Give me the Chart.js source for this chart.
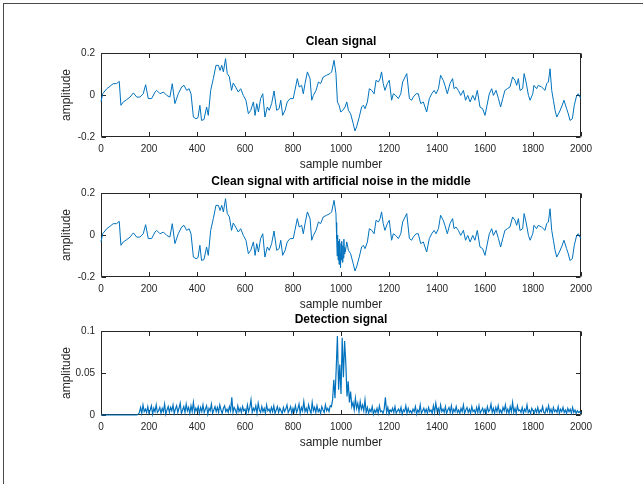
<!DOCTYPE html>
<html>
<head>
<meta charset="utf-8">
<script src="https://cdn.jsdelivr.net/npm/chart.js@4/dist/chart.umd.min.js"></script>
<style>
  html,body{margin:0;padding:0;background:#fff;}
  #wrap{position:relative;width:643px;height:484px;overflow:hidden;background:#fff;}
  #frame{position:absolute;left:3px;top:3px;width:700px;height:600px;border-left:1px solid #4a4a4a;border-top:1px solid #4a4a4a;}
  canvas{position:absolute;left:0;}
</style>
</head>
<body>
<div id="wrap">
  <div id="frame"></div>
  <canvas id="c1" width="643" height="176" style="top:0px"></canvas>
  <canvas id="c2" width="643" height="176" style="top:140px"></canvas>
  <canvas id="c3" width="643" height="176" style="top:278px"></canvas>
</div>
<script>
// ---------------- data ----------------
const titles = ["Clean signal", "Clean signal with artificial noise in the middle", "Detection signal"];
const xLabel = "sample number";
const yLabel = "amplitude";
const xTicks = [0,200,400,600,800,1000,1200,1400,1600,1800,2000];
const signalYTicks = [-0.2, 0, 0.2];
const detectionYTicks = [0, 0.05, 0.1];

// clean signal (sample number, amplitude)
const cleanSamples = [
  0,7,24,37,51,65,76,83,93,107,
  121,135,149,162,176,186,197,211,225,232,
  246,260,274,287,297,308,322,336,346,357,
  367,375,385,396,404,412,419,429,440,447,
  457,468,479,489,496,503,510,519,526,535,
  544,551,561,572,582,593,604,614,624,635,
  642,649,656,665,674,683,693,701,711,721,
  732,742,749,757,767,776,788,801,808,818,
  826,836,843,850,860,871,878,885,896,906,
  915,926,940,954,961,971,979,985,992,999,
  1007,1017,1024,1031,1040,1051,1058,1065,1076,1086,
  1093,1100,1110,1118,1128,1138,1146,1156,1163,1169,
  1176,1183,1193,1201,1211,1218,1228,1239,1249,1257,
  1267,1274,1285,1294,1301,1313,1322,1332,1343,1357,
  1368,1378,1388,1396,1406,1415,1426,1433,1443,1454,
  1465,1471,1479,1489,1499,1510,1519,1528,1538,1549,
  1558,1568,1579,1590,1600,1607,1618,1628,1635,1646,
  1656,1665,1674,1683,1693,1704,1715,1725,1732,1739,
  1746,1757,1763,1771,1781,1788,1799,1804,1815,1822,
  1836,1850,1857,1864,1871,1878,1885,1892,1899,1910,
  1919,1929,1940,1947,1954,1964,1972,1982,1989,1999
];
const cleanValues = [
  -0.033,0.006,0.030,0.041,0.054,0.054,0.065,-0.049,-0.033,-0.022,
  -0.010,0.010,-0.010,-0.010,0.006,0.049,-0.017,-0.017,0.014,0.022,
  0.006,0.014,-0.002,-0.010,0.054,-0.041,0.006,0.038,0.046,0.022,
  0.030,0.006,-0.105,-0.113,-0.108,-0.049,-0.121,-0.117,-0.057,-0.097,
  0.022,0.078,0.141,0.141,0.117,0.141,0.110,0.173,0.102,0.086,
  0.022,0.057,0.038,0.014,0.030,-0.002,-0.025,-0.089,-0.073,-0.033,
  -0.097,-0.041,-0.081,-0.017,0.006,-0.105,-0.057,-0.073,-0.041,0.019,
  -0.073,-0.065,-0.025,-0.097,-0.073,-0.033,-0.017,-0.017,0.022,0.078,
  0.038,0.046,0.006,0.054,0.110,0.078,-0.025,-0.002,0.022,0.062,
  0.054,0.086,0.094,0.102,0.110,0.165,0.102,-0.033,-0.049,-0.081,
  -0.073,-0.057,-0.033,-0.073,-0.089,-0.137,-0.171,-0.152,-0.105,-0.057,
  -0.049,-0.065,-0.033,0.030,0.022,0.006,0.070,0.062,0.078,0.110,
  0.054,0.022,0.054,0.070,-0.025,0.006,-0.002,-0.017,0.006,0.062,
  0.086,0.102,-0.017,-0.025,-0.010,0.006,0.006,-0.041,-0.033,-0.081,
  -0.017,0.006,0.022,0.006,0.030,0.094,0.070,0.046,0.006,0.054,
  0.078,0.030,0.038,0.022,-0.002,0.022,-0.025,-0.002,-0.033,-0.002,
  -0.025,0.022,-0.057,-0.065,-0.097,-0.057,0.006,0.030,-0.002,0.022,
  -0.017,-0.057,-0.017,0.022,0.030,0.038,0.086,0.070,0.046,0.078,
  0.022,0.030,0.102,0.062,-0.002,-0.025,0.006,0.046,0.030,0.046,
  0.038,0.022,0.054,0.062,0.125,0.022,-0.025,-0.073,-0.105,-0.081,
  -0.057,-0.025,-0.065,-0.089,-0.121,-0.113,-0.049,-0.002,0.006,-0.017
];

// noisy stretch in the middle of the second signal
const noiseSamples = [980,982,984,986,988,990,992,994,996,998,1000,1002,1004,1006,1008,1010,1012,1014,1016,1018];
const noiseValues  = [0.060,-0.020,-0.100,0.000,-0.120,-0.030,-0.140,-0.020,-0.090,-0.155,-0.040,-0.120,-0.030,-0.130,-0.050,-0.110,-0.020,-0.090,-0.060,-0.080];

// detection signal: zero until sample 150, then values (in thousandths) every 5 samples
const detectionFlatEnd = 150;
const detectionStep = 5;
const detectionUnit = 0.001;
const detectionValues = [
  0,1,3,9,2,12,4,7,3,10,
  2,6,11,1,8,4,12,3,5,9,
  2,8,4,13,1,6,10,3,9,5,
  12,2,7,11,3,8,14,2,6,10,
  3,13,5,9,2,11,4,15,3,8,
  5,10,2,9,4,12,3,7,11,1,
  8,5,13,2,6,10,4,9,3,12,
  6,2,8,11,4,7,3,10,5,21,
  3,9,6,2,11,4,8,3,10,5,
  7,2,12,4,9,18,3,8,5,11,
  2,14,6,3,10,4,8,2,12,5,
  7,3,9,4,11,2,6,10,3,8,
  5,2,9,4,7,12,3,6,10,2,
  8,4,11,3,7,13,2,9,5,16,
  4,8,3,12,6,2,15,5,9,3,
  11,4,7,2,10,6,3,12,5,8,
  4,11,10,18,42,20,55,94,30,60,
  25,92,45,88,62,22,40,15,28,10,
  15,6,20,8,14,4,16,7,12,5,
  18,3,9,2,7,4,10,1,6,3,
  8,2,11,4,5,2,7,21,3,9,
  1,6,4,8,3,10,2,5,7,3,
  9,1,6,4,11,2,8,3,5,2,
  7,4,10,1,6,3,12,2,5,8,
  3,7,2,9,4,6,2,11,3,14,
  5,8,2,12,4,7,3,10,2,6,
  9,3,11,2,7,4,10,3,6,2,
  8,4,12,2,6,9,3,7,2,10,
  4,6,2,9,3,11,2,5,8,3,
  7,2,10,4,6,13,3,8,2,9,
  4,11,3,6,2,9,5,12,3,7,
  2,10,4,15,3,8,2,11,5,6,
  3,9,2,7,4,12,3,6,2,8,
  5,2,7,3,9,2,6,4,10,3,
  2,8,4,11,3,7,2,9,4,6,
  3,10,2,7,4,9,3,6,2,8,
  4,7,2,9,3,6,2,5,3,4,
  2
];

// ---------------- build point lists ----------------
const cleanPts = cleanSamples.map((s,i)=>({x:s,y:cleanValues[i]}));
const noisyPts = cleanPts.filter(p=>p.x<noiseSamples[0]||p.x>noiseSamples[noiseSamples.length-1])
  .concat(noiseSamples.map((s,i)=>({x:s,y:noiseValues[i]})))
  .sort((a,b)=>a.x-b.x);
const detPts = [{x:0,y:0}].concat(detectionValues.map((v,i)=>({x:detectionFlatEnd+i*detectionStep,y:v*detectionUnit})));

// ---------------- styling ----------------
const FONT = "'Liberation Sans', Arial, Helvetica, sans-serif";
const TXT = '#262626';
const LINE = '#0072BD';

const boxPlugin = {
  id:'matlabBox',
  beforeDatasetsDraw(chart){
    const {ctx, chartArea:a, scales:{x,y}} = chart;
    const L=Math.round(a.left)+0.5, R=Math.round(a.right)-0.5, T=Math.round(a.top)+0.5, B=Math.round(a.bottom)-0.5;
    ctx.save();
    ctx.strokeStyle=TXT; ctx.lineWidth=1;
    ctx.beginPath();
    ctx.rect(L,T,R-L,B-T);
    const tl=4.5;
    x.ticks.forEach(t=>{
      const px=Math.round(x.getPixelForValue(t.value))+0.5;
      ctx.moveTo(px,B); ctx.lineTo(px,B-tl);
      ctx.moveTo(px,T); ctx.lineTo(px,T+tl);
    });
    y.ticks.forEach(t=>{
      const py=Math.round(y.getPixelForValue(t.value))+0.5;
      ctx.moveTo(L,py); ctx.lineTo(L+tl,py);
      ctx.moveTo(R,py); ctx.lineTo(R-tl,py);
    });
    ctx.stroke();
    ctx.restore();
  }
};

function fmt(v){ return String(Number(v.toFixed(4))); }

function makeChart(id, title, pts, yTicks, extra){
  return new Chart(document.getElementById(id), {
    type:'line',
    data:{datasets:[Object.assign({data:pts, borderColor:LINE, borderWidth:1, pointRadius:0, tension:0, fill:false, clip:2}, extra||{})]},
    options:{
      responsive:false, animation:false, events:[],
      layout:{padding:{top:34, left:56, right:62, bottom:3}},
      plugins:{
        legend:{display:false}, tooltip:{enabled:false},
        title:{display:true, text:title, fullSize:false, color:'#000',
               font:{family:FONT, size:12, weight:'bold'}, padding:{top:0,bottom:4.6}}
      },
      scales:{
        x:{type:'linear', min:0, max:2000,
           afterBuildTicks:(s)=>{ s.ticks = xTicks.map(v=>({value:v})); },
           afterFit:(s)=>{ s.height=36; },
           grid:{display:false, drawTicks:false}, border:{display:false},
           ticks:{color:TXT, font:{family:FONT,size:10}, padding:6, maxRotation:0, autoSkip:false, callback:(v)=>fmt(v)},
           title:{display:true, text:xLabel, color:TXT, font:{family:FONT,size:12}, padding:{top:0,bottom:1.5}}},
        y:{type:'linear', min:yTicks[0], max:yTicks[yTicks.length-1],
           afterBuildTicks:(s)=>{ s.ticks = yTicks.map(v=>({value:v})); },
           afterFit:(s)=>{ s.width=45; },
           grid:{display:false, drawTicks:false}, border:{display:false},
           ticks:{color:TXT, font:{family:FONT,size:10}, padding:6, autoSkip:false, callback:(v)=>fmt(v)},
           title:{display:true, text:yLabel, color:TXT, font:{family:FONT,size:12}, padding:{top:3,bottom:0}}}
      }
    },
    plugins:[boxPlugin]
  });
}

makeChart('c1', titles[0], cleanPts, signalYTicks);
makeChart('c2', titles[1], noisyPts, signalYTicks);
makeChart('c3', titles[2], detPts, detectionYTicks, {borderWidth:1.2});
</script>
</body>
</html>
